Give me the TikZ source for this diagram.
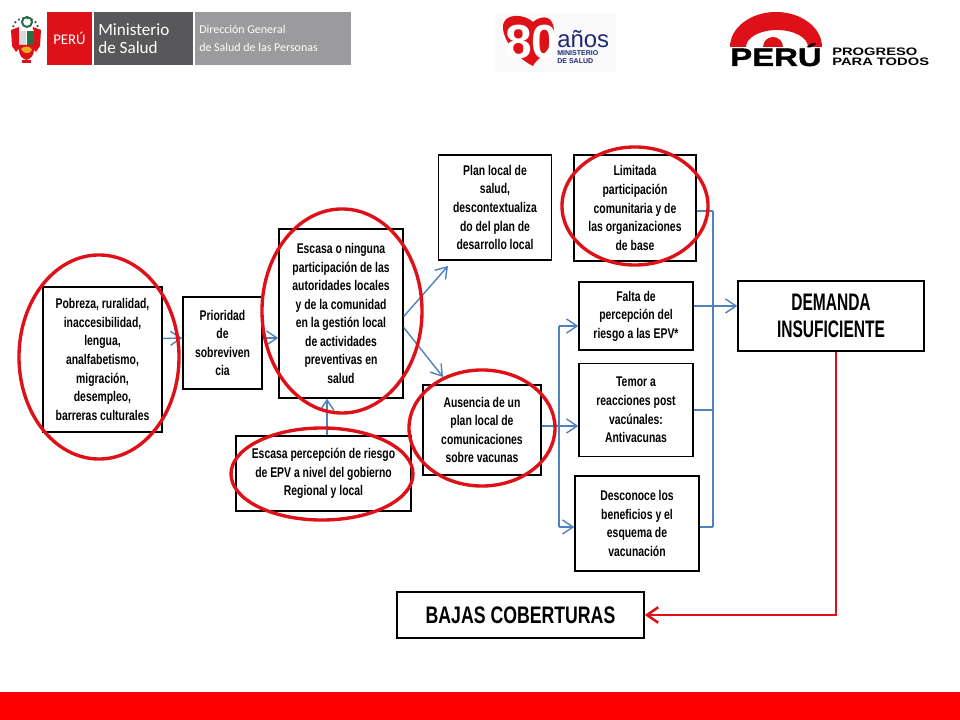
\documentclass[tikz,border=0pt]{standalone}
\usepackage{fontspec}
\usepackage{tikz}
\usetikzlibrary{arrows.meta,shapes.geometric}
\setmainfont{Liberation Sans}
\newfontfamily\boxfont[FakeStretch=0.74]{Liberation Sans Bold}
\newfontfamily\narrowfont[FakeStretch=0.65]{Liberation Sans Bold}
\newfontfamily\logofont{Carlito}
\newfontfamily\widefont[FakeStretch=1.36]{Liberation Sans Bold}
\newfontfamily\perufont[FakeStretch=1.3,FakeBold=1.5]{Liberation Sans Bold}

\begin{document}
\begin{tikzpicture}[x=0.025cm,y=-0.025cm,
    box/.style={draw=black, line width=1pt, align=center, inner sep=0pt, font=\boxfont\fontsize{10}{13.2}\selectfont},
    bigbox/.style={box, font=\boxfont\fontsize{17}{19.5}\selectfont},
    flow/.style={draw=flowblue, line width=1pt, -{Straight Barb[length=7.5pt,width=10pt]}},
    line/.style={draw=flowblue, line width=1pt},
    ring/.style={draw=ringred, line width=2.4pt, ellipse, inner sep=0pt},
    panel/.style={inner sep=0pt, outer sep=0pt, anchor=north west},
    logotext/.style={text=white, align=left, anchor=west, inner sep=0pt}]

      % Define colors
      \definecolor{flowblue}{RGB}{79,129,189}
      \definecolor{ringred}{RGB}{222,16,24}
      \definecolor{barred}{RGB}{255,0,0}
      \definecolor{darkpanel}{RGB}{88,88,90}
      \definecolor{greypanel}{RGB}{155,155,157}
      \definecolor{navytext}{RGB}{30,40,120}
      \definecolor{wreath}{RGB}{40,110,70}
      \definecolor{gold}{RGB}{235,170,40}

      % Page and bottom bar
      \path[use as bounding box] (0,0) rectangle (960,720);
      \fill[white] (0,0) rectangle (960,720);
      \fill[barred] (0,692) rectangle (960,720);

      % Left logo
      \node[panel, fill=ringred, minimum width=1.125cm, minimum height=1.325cm] (peru) at (47,12) {};
      \node[text=white, inner sep=0pt, font=\logofont\fontsize{10.5}{12}\selectfont] (perulabel) at (peru.center) {PERÚ};
      \node[panel, fill=darkpanel, minimum width=2.475cm, minimum height=1.325cm] (minsa) at (94,12) {};
      \node[logotext, font=\logofont\fontsize{12.2}{13.2}\selectfont] (minsalabel) at ([xshift=0.1cm]minsa.west) {Ministerio\\de Salud};
      \node[panel, fill=greypanel, minimum width=3.9cm, minimum height=1.325cm] (dgsp) at (195,12) {};
      \node[logotext, font=\logofont\fontsize{8.5}{12.8}\selectfont] (dgsplabel) at ([xshift=0.1cm]dgsp.west) {Dirección General\\de Salud de las Personas};

      % Coat of arms
      \draw[black!75, line width=1.2pt, dotted] (13,27) .. controls (15,15) and (36,15) .. (38,27);
      \draw[wreath, line width=1.4pt] (27,22) circle (5);
      \fill[ringred] (11,30) -- (19,27) -- (20,48) -- (16,52) -- (12,46) -- cycle;
      \fill[ringred] (41,30) -- (33,27) -- (32,48) -- (36,52) -- (40,46) -- cycle;
      \fill[white] (19,30) rectangle (34,46);
      \fill[wreath] (27,31) rectangle (34,45);
      \fill[black!15] (19,31) rectangle (26,45);
      \fill[ringred] (19,45) -- (34,45) -- (34,50) .. controls (34,56) and (30,59) .. (26.5,60) .. controls (23,59) and (19,56) .. (19,50) -- cycle;
      \fill[gold] (21,49) .. controls (24,45) and (31,46) .. (32,50) .. controls (30,54) and (24,55) .. (21,49);
      \fill[ringred] (22,60) rectangle (31,63);

      % Anniversary logo
      \fill[black!2] (495,13) rectangle (616,72);
      \fill[ringred] (503,27) .. controls (503,12) and (525,14) .. (533,22) .. controls (543,14) and (555,15) .. (554,35) .. controls (553,50) and (535,60) .. (533,66) .. controls (520,60) and (503,42) .. (503,27);
      \node[text=white, inner sep=0pt, font=\bfseries\fontsize{34}{34}\selectfont] (ochenta) at (532,42) {80};
      \node[text=navytext, inner sep=0pt, anchor=west, font=\fontsize{17}{20}\selectfont] (anos) at (557,39) {años};
      \node[text=navytext, inner sep=0pt, align=left, anchor=north west, font=\bfseries\fontsize{5}{5.8}\selectfont] (msalud) at (557,50) {MINISTERIO\\DE SALUD};

      % Right logo
      \fill[ringred] (730,47) arc (180:360:46 and 35) -- (808,47) arc (360:180:31 and 17) -- cycle;
      \fill[ringred] (763,47) arc (180:360:10) -- cycle;
      \node[text=black, inner sep=0pt, anchor=base, font=\perufont\fontsize{18}{18}\selectfont] (perutext) at (776,66) {PERÚ};
      \node[text=black, inner sep=0pt, align=left, anchor=west, font=\widefont\fontsize{7.7}{7}\selectfont] (progreso) at (832,57) {PROGRESO\\PARA TODOS};

      % Boxes
      \node[box, minimum width=2.975cm, minimum height=3.625cm] (pobreza) at (102.5,359.5) {Pobreza, ruralidad,\\inaccesibilidad,\\lengua,\\analfabetismo,\\migración,\\desempleo,\\barreras culturales};
      \node[box, minimum width=1.975cm, minimum height=2.3cm] (prioridad) at (222.5,343) {Prioridad\\de\\sobreviven\\cia};
      \node[box, minimum width=3.1cm, minimum height=4.225cm] (escasa) at (341,313.5) {Escasa o ninguna\\participación de las\\autoridades locales\\y de la comunidad\\en la gestión local\\de actividades\\preventivas en\\salud};
      \node[box, minimum width=4.375cm, minimum height=1.875cm] (percepcion) at (323.5,473.5) {Escasa percepción de riesgo\\de EPV a nivel del gobierno\\Regional y local};
      \node[box, minimum width=2.825cm, minimum height=2.625cm] (planlocal) at (495,207.5) {Plan local de\\salud,\\descontextualiza\\do del plan de\\desarrollo local};
      \node[box, minimum width=2.95cm, minimum height=2.25cm] (ausencia) at (482,430) {Ausencia de un\\plan local de\\comunicaciones\\sobre vacunas};
      \node[box, minimum width=3.05cm, minimum height=2.65cm] (limitada) at (635,208) {Limitada\\participación\\comunitaria y de\\las organizaciones\\de base};
      \node[box, minimum width=2.85cm, minimum height=1.7cm] (falta) at (636,316) {Falta de\\percepción del\\riesgo a las EPV*};
      \node[box, minimum width=2.85cm, minimum height=2.325cm] (temor) at (636,410) {Temor a\\reacciones post\\vacúnales:\\Antivacunas};
      \node[box, minimum width=3.1cm, minimum height=2.375cm] (desconoce) at (637,523.5) {Desconoce los\\beneficios y el\\esquema de\\vacunación};
      \node[bigbox, font=\narrowfont\fontsize{17}{19.5}\selectfont, minimum width=4.65cm, minimum height=1.75cm] (demanda) at (831,316) {DEMANDA\\INSUFICIENTE};
      \node[bigbox, minimum width=6.175cm, minimum height=1.15cm] (bajas) at (520.5,615) {BAJAS COBERTURAS};

      % Trunk and collector
      \coordinate (trunktop) at (559,326);
      \coordinate (trunkbot) at (559,527);
      \coordinate (colltop) at (713,211);
      \coordinate (collbot) at (713,527);
      \coordinate (arrowup) at (327,420);
      \coordinate (arrowdown) at (836,400);
      \coordinate (planfoot) at (448,266);
      \coordinate (ausenciatop) at (443,377);

      % Connecting lines
      \draw[flow] ([yshift=0.525cm]pobreza.east) -- ([yshift=0.125cm]prioridad.west);
      \draw[flow] ([yshift=0.125cm]prioridad.east) -- ([yshift=0.125cm]prioridad.east -| escasa.west);
      \draw[flow] (percepcion.north -| arrowup) -- (escasa.south -| arrowup);
      \draw[flow] ([yshift=-0.075cm]escasa.east) -- (planfoot);
      \draw[flow] ([yshift=-0.35cm]escasa.east) -- (ausenciatop);
      \draw[flow] ([yshift=0.1cm]ausencia.east) -- ([yshift=0.1cm]ausencia.east -| temor.west);
      \draw[line] (trunktop) -- (trunkbot);
      \draw[flow] (trunktop) -- (trunktop -| falta.west);
      \draw[flow] (trunkbot) -- (trunkbot -| desconoce.west);

      % Collector connections
      \draw[line] (colltop) -- (collbot);
      \draw[line] (limitada.east |- colltop) -- (colltop);
      \draw[flow] ([yshift=0.25cm]falta.east) -- ([yshift=0.25cm]falta.east -| demanda.west);
      \draw[line] (temor.east) -- (temor.east -| colltop);
      \draw[line] (desconoce.east |- collbot) -- (collbot);

      % Result line
      \draw[draw=ringred, line width=1.8pt, -{Straight Barb[length=8pt,width=11pt]}] (demanda.south -| arrowdown) |- (bajas.east);

      % Red rings
      \node[ring, minimum width=4cm, minimum height=5.1cm] (ringpobreza) at (99,357) {};
      \node[ring, minimum width=4cm, minimum height=5.1cm] (ringescasa) at (342,311) {};
      \node[ring, minimum width=4.55cm, minimum height=2.3cm] (ringpercepcion) at (322,474) {};
      \node[ring, minimum width=3.65cm, minimum height=2.9cm] (ringausencia) at (482,428) {};
      \node[ring, minimum width=3.65cm, minimum height=2.95cm] (ringlimitada) at (635,206) {};

    \end{tikzpicture}
\end{document}
